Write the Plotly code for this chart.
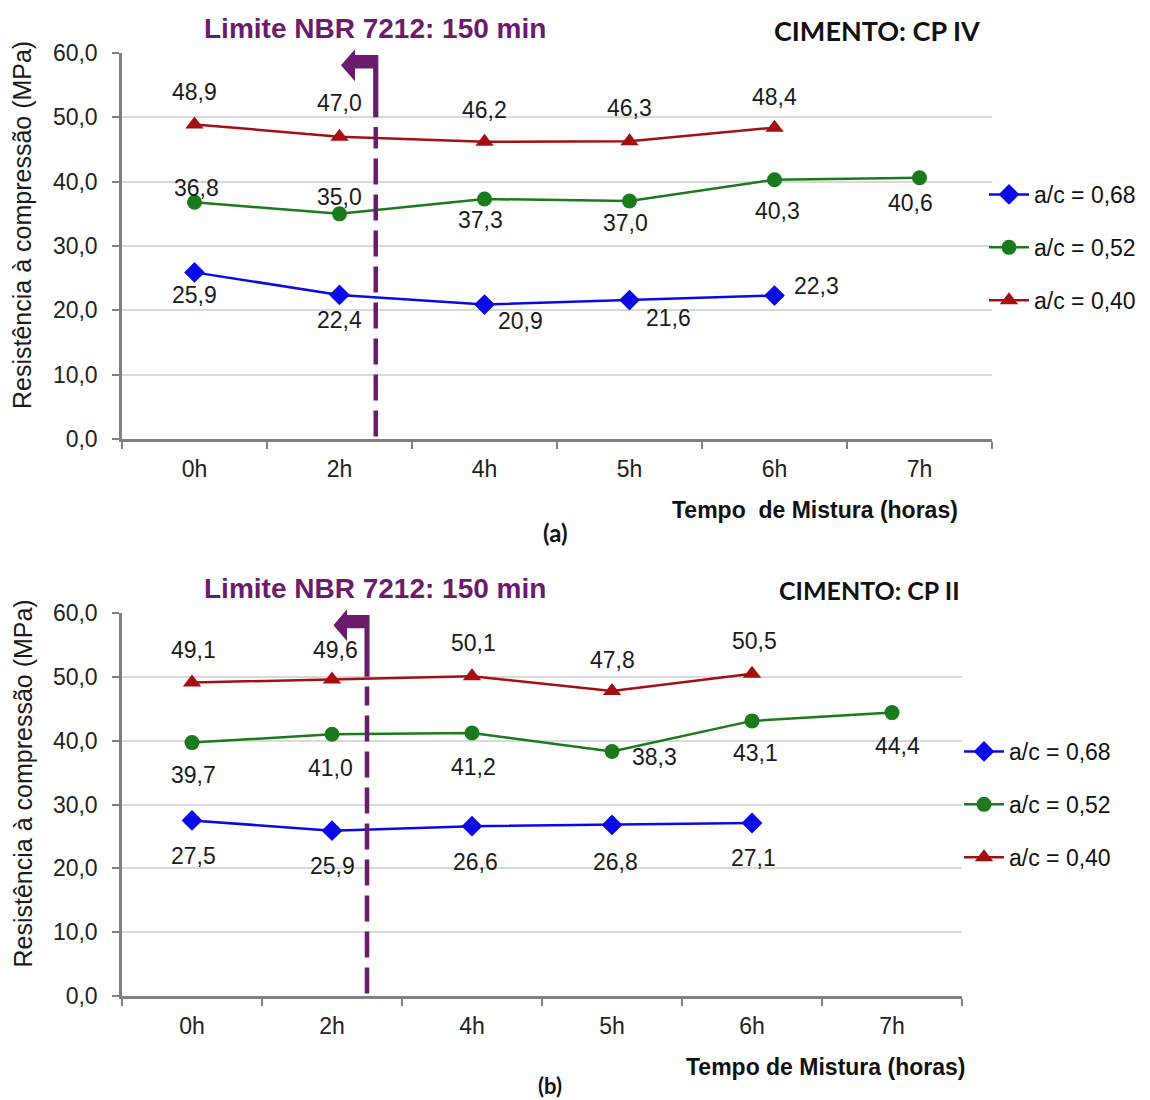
import plotly.graph_objects as go

W, H = 1150, 1100
OFF = 8  # page body margin

categories = ["0h", "2h", "4h", "5h", "6h", "7h"]
series_names = ["a/c = 0,68", "a/c = 0,52", "a/c = 0,40"]

# (a) CP IV
a_068 = [25.9, 22.4, 20.9, 21.6, 22.3, None]
a_052 = [36.8, 35.0, 37.3, 37.0, 40.3, 40.6]
a_040 = [48.9, 47.0, 46.2, 46.3, 48.4, None]

# (b) CP II
b_068 = [27.5, 25.9, 26.6, 26.8, 27.1, None]
b_052 = [39.7, 41.0, 41.2, 38.3, 43.1, 44.4]
b_040 = [49.1, 49.6, 50.1, 47.8, 50.5, None]

limit_pos = 1.25  # 150 min, between 2h and 4h

# label offsets (px) - style only
a_off = {
    0: [(0, -23), (0, -25), (36, -16), (39, -18), (42, 10), None],
    1: [(2, 14), (0, 17), (-4, -21), (-4, -22), (3, -31), (-9, -25)],
    2: [(0, 32), (0, 34), (0, 32), (0, 33), (0, 31), None],
}
b_off = {
    0: [(1, -36), (0, -35), (3, -36), (3, -37), (1, -35), None],
    1: [(1, -32), (-2, -34), (1, -34), (42, -5), (3, -32), (5, -33)],
    2: [(1, 33), (3, 29), (1, 33), (0, 31), (2, 33), None],
}

colors = ["#0A0AE6", "#1B7A1B", "#A50F12"]
symbols = ["diamond", "circle", "triangle-up"]
msizes = [16, 15, 16]
purple = "#6A1B6E"
FONT = "Liberation Sans, Arial, sans-serif"
CAL = "Lato, Open Sans, sans-serif"


def px(x):
    return (x - OFF) / W


def py(y):
    return 1 - (y - OFF) / H


fig = go.Figure()

panels = [
    dict(data=[a_068, a_052, a_040], off=a_off, xa="x", ya="y",
         xd=[px(122), px(992)], yd=[py(439), py(53)], legend="legend",
         top=53, bot=439, cement="CIMENTO: CP IV", cem_right=982, cem_size=27,
         tag="(a)", tag_x=555, tag_y=532, tag_size=24,
         xtitle="Tempo  de Mistura (horas)", xt_x=815),
    dict(data=[b_068, b_052, b_040], off=b_off, xa="x2", ya="y2",
         xd=[px(122), px(962)], yd=[py(996), py(613)], legend="legend2",
         top=613, bot=996, cement="CIMENTO: CP II", cem_right=962, cem_size=25,
         tag="(b)", tag_x=550, tag_y=1085, tag_size=22,
         xtitle="Tempo de Mistura (horas)", xt_x=825),
]

annotations = []
shapes = []

# arrow outline in (category index, value) units
arrow_pts = [(1.01, 58.1), (1.107, 60.6), (1.107, 59.7), (1.268, 59.7), (1.268, 50.0),
             (1.232, 50.0), (1.232, 57.6), (1.107, 57.6), (1.107, 55.6)]

for pi, p in enumerate(panels):
    n = len(categories)

    def to_paper(i, v, p=p):
        x0, x1 = p["xd"]
        y0, y1 = p["yd"]
        return x0 + (i + 0.5) / n * (x1 - x0), y0 + v / 60 * (y1 - y0)

    for si, vals in enumerate(p["data"]):
        xs = [c for c, v in zip(categories, vals) if v is not None]
        ys = [v for v in vals if v is not None]
        fig.add_trace(go.Scatter(
            x=xs, y=ys, xaxis=p["xa"], yaxis=p["ya"], mode="lines+markers",
            name=series_names[si], legend=p["legend"], legendgroup=f"{pi}-{si}",
            line=dict(color=colors[si], width=2.5),
            marker=dict(symbol=symbols[si], size=msizes[si], color=colors[si]),
            hoverinfo="skip",
        ))
        for ci, v in enumerate(vals):
            if v is None:
                continue
            dx, dy = p["off"][si][ci]
            annotations.append(dict(
                x=categories[ci], y=v, xref=p["xa"], yref=p["ya"],
                text=f"{v:.1f}".replace(".", ","), showarrow=False,
                xshift=dx, yshift=dy,
                font=dict(family=FONT, size=23, color="#1a1a1a"),
            ))
    # dashed limit line
    shapes.append(dict(type="line", xref=p["xa"], yref=p["ya"], x0=limit_pos, x1=limit_pos,
                       y0=0.4, y1=48.5, line=dict(color=purple, width=4.5, dash="26px,10px")))
    # bent arrow
    pts = [to_paper(i, v) for i, v in arrow_pts]
    path = "M " + " L ".join(f"{x:.5f},{y:.5f}" for x, y in pts) + " Z"
    shapes.append(dict(type="path", xref="paper", yref="paper", path=path,
                       fillcolor=purple, line=dict(width=0)))
    # titles
    annotations.append(dict(
        x=px(375), y=py(p["top"] - 25), xref="paper", yref="paper",
        text="<b>Limite NBR 7212: 150 min</b>", showarrow=False,
        font=dict(family=FONT, size=28, color=purple), xanchor="center", yanchor="middle",
    ))
    annotations.append(dict(
        x=px(p["cem_right"]), y=py(p["top"] - 23), xref="paper", yref="paper",
        text=f"<b>{p['cement']}</b>", showarrow=False,
        font=dict(family=CAL, size=p["cem_size"], color="#111"),
        xanchor="right", yanchor="middle",
    ))
    annotations.append(dict(
        x=px(p["xt_x"]), y=py(p["bot"] + 71), xref="paper", yref="paper",
        text=f"<b>{p['xtitle']}</b>", showarrow=False,
        font=dict(family=FONT, size=23, color="#111"), xanchor="center", yanchor="middle",
    ))
    annotations.append(dict(
        x=px(p["tag_x"]), y=py(p["tag_y"]), xref="paper", yref="paper",
        text=f"<b>{p['tag']}</b>", showarrow=False,
        font=dict(family=CAL, size=p["tag_size"], color="#111"),
        xanchor="center", yanchor="middle",
    ))
    annotations.append(dict(
        x=px(22), y=py((p["top"] + p["bot"]) / 2 - 21), xref="paper", yref="paper",
        text="Resistência à compressão (MPa)", showarrow=False, textangle=-90,
        font=dict(family=FONT, size=25, color="#1a1a1a"), xanchor="center", yanchor="middle",
    ))

axis_common_x = dict(
    type="category", categoryorder="array", categoryarray=categories,
    range=[-0.5, 5.5], tickson="boundaries", ticks="outside", ticklen=7, tickwidth=2,
    tickcolor="#808080", showline=True, linecolor="#808080", linewidth=2.5,
    showgrid=False, zeroline=False, ticklabelstandoff=8, automargin=False,
    tickfont=dict(family=FONT, size=23, color="#222"),
)
axis_common_y = dict(
    range=[0, 60], tickvals=[0, 10, 20, 30, 40, 50, 60], tickformat=".1f",
    ticks="outside", ticklen=7, tickwidth=2, tickcolor="#808080",
    showline=True, linecolor="#808080", linewidth=2.5,
    showgrid=True, gridcolor="#D9D9D9", gridwidth=1.5, zeroline=False, automargin=False,
    tickfont=dict(family=FONT, size=23, color="#222"), ticklabelstandoff=10,
)

legend_common = dict(
    font=dict(family=FONT, size=23, color="#111"), bgcolor="rgba(0,0,0,0)",
    tracegroupgap=20, traceorder="grouped", xanchor="left", yanchor="top",
    itemwidth=40,
)

fig.update_layout(
    width=W, height=H, margin=dict(l=0, r=0, t=0, b=0, autoexpand=False),
    paper_bgcolor="white", plot_bgcolor="white", separators=",.",
    xaxis=dict(domain=panels[0]["xd"], anchor="y", **axis_common_x),
    yaxis=dict(domain=panels[0]["yd"], anchor="x", **axis_common_y),
    xaxis2=dict(domain=panels[1]["xd"], anchor="y2", **axis_common_x),
    yaxis2=dict(domain=panels[1]["yd"], anchor="x2", **axis_common_y),
    legend=dict(x=px(984), y=py(173), **legend_common),
    legend2=dict(x=px(959), y=py(730), **legend_common),
    annotations=annotations, shapes=shapes, showlegend=True,
)

fig.write_html("out.html")
